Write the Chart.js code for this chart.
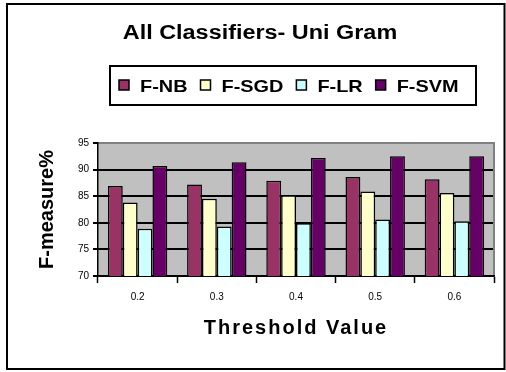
<!DOCTYPE html>
<html>
<head>
<meta charset="utf-8">
<script src="https://cdn.jsdelivr.net/npm/chart.js@4/dist/chart.umd.min.js"></script>
<style>
  html, body { margin: 0; padding: 0; background: #fff; }
  #wrap { position: relative; width: 506px; height: 372px; }
  #plotBg { position: absolute; background: #C0C0C0; z-index: 0; }
  canvas { display: block; position: relative; z-index: 1; }
</style>
</head>
<body>
<div id="wrap">
  <div id="plotBg"></div>
  <canvas id="c" width="506" height="372"></canvas>
</div>
<script>
// Threshold values on the x axis
const thresholds = ['0.2', '0.3', '0.4', '0.5', '0.6'];

// F-measure (%) per classifier
const fNB  = [86.9, 87.2, 87.9, 88.6, 88.2];
const fSGD = [83.8, 84.5, 85.2, 85.9, 85.6];
const fLR  = [78.9, 79.3, 79.9, 80.6, 80.3];
const fSVM = [90.7, 91.4, 92.2, 92.5, 92.5];

const seriesNames = ['F-NB', 'F-SGD', 'F-LR', 'F-SVM'];
const seriesColors = ['#993366', '#FFFFCC', '#CCFFFF', '#660066'];

// y axis range and tick step
const yMin = 70, yMax = 95, yStep = 5;

const chartTitle = 'All Classifiers- Uni Gram';
const yTitle = 'F-measure%';
const xTitle = 'Threshold Value';

const FONT = "'Liberation Sans', Arial, Helvetica, sans-serif";
const STRETCH = 1.17;

// Draw text stretched horizontally
function wideText(ctx, text, x, y, size, align) {
  ctx.save();
  ctx.font = 'bold ' + size + 'px ' + FONT;
  ctx.textAlign = align;
  ctx.textBaseline = 'alphabetic';
  ctx.fillStyle = '#000';
  ctx.translate(x, y);
  ctx.scale(STRETCH, 1);
  ctx.fillText(text, 0, 0);
  ctx.restore();
}
function wideWidth(ctx, text, size) {
  ctx.save();
  ctx.font = 'bold ' + size + 'px ' + FONT;
  const w = ctx.measureText(text).width * STRETCH;
  ctx.restore();
  return w;
}

const decor = {
  id: 'decor',
  afterLayout(chart) {
    const xs = chart.scales.x;
    if (xs && !xs._spaced) {
      const orig = xs.drawTitle.bind(xs);
      xs.drawTitle = function () {
        const c = this.ctx;
        const prev = c.letterSpacing;
        c.letterSpacing = '2px';
        orig();
        c.letterSpacing = prev;
      };
      xs._spaced = true;
    }
    // grey plot background sits behind the canvas, sized to the chart area
    const a = chart.chartArea;
    const bgEl = document.getElementById('plotBg');
    bgEl.style.left = a.left + 'px';
    bgEl.style.top = a.top + 'px';
    bgEl.style.width = (a.right - a.left) + 'px';
    bgEl.style.height = (a.bottom - a.top) + 'px';
  },
  afterDatasetsDraw(chart) {
    const { ctx, chartArea: a } = chart;
    const ys = chart.scales.y;

    // value lines at each inner y tick, only where no bar covers them
    const bars = [];
    chart.data.datasets.forEach((ds, i) => {
      chart.getDatasetMeta(i).data.forEach(el => {
        const p = el.getProps(['x', 'y', 'base', 'width'], true);
        bars.push(p);
      });
    });
    ctx.save();
    ctx.fillStyle = '#000';
    ys.ticks.forEach(t => {
      if (t.value <= yMin || t.value >= yMax) return;
      const py = Math.round(ys.getPixelForValue(t.value));
      const cover = bars
        .filter(b => b.y <= py)
        .map(b => [b.x - b.width / 2, b.x + b.width / 2])
        .sort((m, n) => m[0] - n[0]);
      let start = a.left;
      cover.forEach(([l, r]) => {
        if (l > start) ctx.fillRect(start, py - 1, l - start, 2);
        start = Math.max(start, r);
      });
      if (start < a.right) ctx.fillRect(start, py - 1, a.right - start, 2);
    });
    ctx.restore();

    // plot frame on the top and right sides
    ctx.save();
    ctx.strokeStyle = '#808080';
    ctx.lineWidth = 2;
    ctx.beginPath();
    ctx.moveTo(a.left + 1, a.top);
    ctx.lineTo(a.right, a.top);
    ctx.lineTo(a.right, a.bottom - 1);
    ctx.stroke();
    ctx.restore();
  },
  afterDraw(chart) {
    const ctx = chart.ctx;
    ctx.save();
    // outer frame
    ctx.strokeStyle = '#000';
    ctx.lineWidth = 2;
    ctx.strokeRect(7, 4, 497.5, 365);

    // title
    wideText(ctx, chartTitle, 260, 39, 20, 'center');

    // legend box
    const bx = 110, by = 66, bw = 366, bh = 39;
    ctx.fillStyle = '#fff';
    ctx.fillRect(bx, by, bw, bh);
    ctx.lineWidth = 2;
    ctx.strokeStyle = '#000';
    ctx.strokeRect(bx, by, bw, bh);

    const size = 17;
    let x = bx + 9;
    chart.data.datasets.forEach(ds => {
      ctx.fillStyle = ds.backgroundColor;
      ctx.fillRect(x, 80, 10, 10);
      ctx.lineWidth = 1.5;
      ctx.strokeStyle = '#000';
      ctx.strokeRect(x, 80, 10, 10);
      x += 21;
      wideText(ctx, ds.label, x, 92, size, 'left');
      x += wideWidth(ctx, ds.label, size) + 13;
    });
    ctx.restore();
  }
};

const allSeries = [fNB, fSGD, fLR, fSVM];

new Chart(document.getElementById('c'), {
  type: 'bar',
  data: {
    labels: thresholds,
    datasets: allSeries.map((vals, i) => ({
      label: seriesNames[i],
      data: vals,
      backgroundColor: seriesColors[i],
      borderColor: '#000',
      borderWidth: 1.5,
      categoryPercentage: 0.75,
      barPercentage: 1.0
    }))
  },
  options: {
    responsive: false,
    animation: false,
    devicePixelRatio: 1,
    layout: { padding: { top: 143, right: 12, bottom: 32, left: 0 } },
    plugins: {
      legend: { display: false },
      title: { display: false },
      tooltip: { enabled: false }
    },
    scales: {
      x: {
        grid: {
          display: true,
          drawOnChartArea: false,
          drawTicks: true,
          tickLength: 7,
          tickColor: '#000',
          tickWidth: 1.5,
          offset: true
        },
        border: { display: true, color: '#000', width: 1.5 },
        ticks: {
          color: '#000',
          padding: 8,
          font: { family: FONT, size: 10 }
        },
        title: {
          display: true,
          text: xTitle,
          color: '#000',
          font: { family: FONT, size: 20, weight: 'bold' },
          padding: { top: 13, bottom: 0 }
        },
        afterFit(s) { s.height = 64; }
      },
      y: {
        min: yMin,
        max: yMax,
        ticks: {
          stepSize: yStep,
          color: '#000',
          padding: 4,
          font: { family: FONT, size: 10 }
        },
        grid: {
          color: '#000000',
          lineWidth: 2,
          tickLength: 5
        },
        border: { display: true, color: '#000', width: 1.5 },
        title: {
          display: true,
          text: yTitle,
          color: '#000',
          font: { family: FONT, size: 20, weight: 'bold' },
          padding: { top: 35, bottom: 0 }
        },
        afterFit(s) { s.width = 98; }
      }
    }
  },
  plugins: [decor]
});
</script>
</body>
</html>
